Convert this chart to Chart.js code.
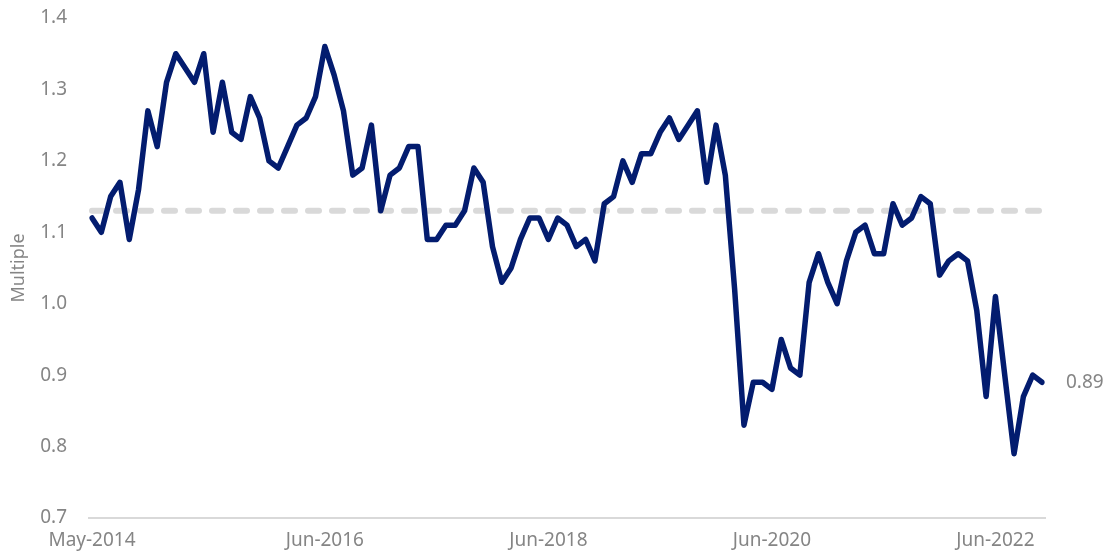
<!DOCTYPE html>
<html>
<head>
<meta charset="utf-8">
<script src="https://cdn.jsdelivr.net/npm/chart.js@4/dist/chart.umd.min.js"></script>
<style>
  html, body { margin: 0; padding: 0; background: #fff; }
  #wrap { width: 1105px; height: 558px; position: relative; }
</style>
</head>
<body>
<div id="wrap"><canvas id="multipleChart"></canvas></div>
<script>
// Monthly valuation multiple, May-2014 to Nov-2022
const startYear = 2014;
const startMonth = 4; // May (0-based)
const monthNames = ['Jan', 'Feb', 'Mar', 'Apr', 'May', 'Jun', 'Jul', 'Aug', 'Sep', 'Oct', 'Nov', 'Dec'];

const multiple = [
  1.12, 1.10, 1.15, 1.17, 1.09, 1.16, 1.27, 1.22, 1.31, 1.35, 1.33, 1.31,
  1.35, 1.24, 1.31, 1.24, 1.23, 1.29, 1.26, 1.20, 1.19, 1.22, 1.25, 1.26,
  1.29, 1.36, 1.32, 1.27, 1.18, 1.19, 1.25, 1.13, 1.18, 1.19, 1.22, 1.22,
  1.09, 1.09, 1.11, 1.11, 1.13, 1.19, 1.17, 1.08, 1.03, 1.05, 1.09, 1.12,
  1.12, 1.09, 1.12, 1.11, 1.08, 1.09, 1.06, 1.14, 1.15, 1.20, 1.17, 1.21,
  1.21, 1.24, 1.26, 1.23, 1.25, 1.27, 1.17, 1.25, 1.18, 1.02, 0.83, 0.89,
  0.89, 0.88, 0.95, 0.91, 0.90, 1.03, 1.07, 1.03, 1.00, 1.06, 1.10, 1.11,
  1.07, 1.07, 1.14, 1.11, 1.12, 1.15, 1.14, 1.04, 1.06, 1.07, 1.06, 0.99,
  0.87, 1.01, 0.90, 0.79, 0.87, 0.90, 0.89
];

const avgMultiple = 1.13;
const tickLabels = ['May-2014', 'Jun-2016', 'Jun-2018', 'Jun-2020', 'Jun-2022'];
const yTicks = { min: 0.7, max: 1.4, step: 0.1 };

const months = multiple.map((_, i) => {
  const m = startMonth + i;
  return monthNames[m % 12] + '-' + (startYear + Math.floor(m / 12));
});
const average = months.map(() => avgMultiple);

const FONT = 'Noto Sans';
const GREY = '#858585';

// baseline along the bottom of the plot, a touch wider than the data
const baseLine = {
  id: 'baseLine',
  beforeDatasetsDraw(chart) {
    const { ctx: c, chartArea, scales } = chart;
    const y = scales.y.getPixelForValue(yTicks.min);
    c.save();
    c.strokeStyle = '#d9d9d9';
    c.lineWidth = 2;
    c.beginPath();
    c.moveTo(chartArea.left - 4, y);
    c.lineTo(chartArea.right + 4, y);
    c.stroke();
    c.restore();
  }
};

// value tag beside the latest point
const lastValue = {
  id: 'lastValue',
  afterDatasetsDraw(chart) {
    const meta = chart.getDatasetMeta(0);
    const pt = meta.data[meta.data.length - 1];
    if (!pt) return;
    const c = chart.ctx;
    c.save();
    c.fillStyle = GREY;
    c.font = '19px "' + FONT + '"';
    c.textAlign = 'left';
    c.textBaseline = 'middle';
    c.fillText(multiple[multiple.length - 1].toFixed(2), pt.x + 24, pt.y);
    c.restore();
  }
};

new Chart(document.getElementById('multipleChart'), {
  type: 'line',
  data: {
    labels: months,
    datasets: [
      {
        label: 'Multiple',
        data: multiple,
        borderColor: '#031c6f',
        borderWidth: 5.5,
        borderJoinStyle: 'round',
        borderCapStyle: 'round',
        pointRadius: 0,
        tension: 0,
        fill: false
      },
      {
        label: 'Average',
        data: average,
        borderColor: '#d9d9d9',
        borderWidth: 6,
        borderDash: [11, 13],
        borderCapStyle: 'round',
        pointRadius: 0,
        fill: false
      }
    ]
  },
  options: {
    responsive: true,
    maintainAspectRatio: false,
    animation: false,
    layout: { padding: { top: 18, right: 63, bottom: 0, left: 0 } },
    plugins: {
      legend: { display: false },
      tooltip: { enabled: false }
    },
    scales: {
      x: {
        type: 'category',
        offset: false,
        grid: { display: false, drawTicks: false },
        border: { display: false },
        afterFit(scale) { scale.height = 40; },
        ticks: {
          autoSkip: false,
          maxRotation: 0,
          padding: 11,
          color: GREY,
          font: { family: FONT, size: 19 },
          callback(v, i) {
            return tickLabels.includes(months[i]) ? months[i] : null;
          }
        }
      },
      y: {
        min: yTicks.min,
        max: yTicks.max,
        grid: { display: false, drawTicks: false },
        border: { display: false },
        afterFit(scale) {
          scale.width = 92;
          // tick padding should only push labels sideways, not shrink the plot
          scale.paddingTop = 0;
          scale.paddingBottom = 0;
        },
        title: {
          display: true,
          text: 'Multiple',
          color: GREY,
          font: { family: FONT, size: 18 },
          padding: { top: 8, bottom: 0 }
        },
        ticks: {
          stepSize: yTicks.step,
          padding: 25,
          color: GREY,
          font: { family: FONT, size: 19 },
          callback: v => Number(v).toFixed(1)
        }
      }
    }
  },
  plugins: [baseLine, lastValue]
});
</script>
</body>
</html>
